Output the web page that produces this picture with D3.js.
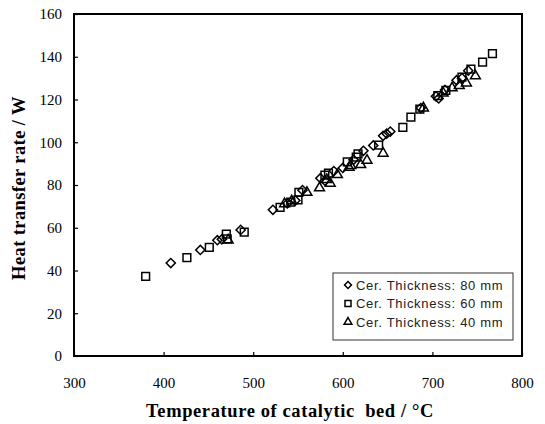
<!DOCTYPE html>
<html><head><meta charset="utf-8">
<script src="https://cdn.jsdelivr.net/npm/d3@7"></script>
<style>body{margin:0;background:#fff}svg{display:block}</style>
</head><body>
<svg id="c" width="545" height="424"></svg>
<script>
// ---- data ----
const seriesNames = ["Cer. Thickness: 80 mm", "Cer. Thickness: 60 mm", "Cer. Thickness: 40 mm"];
const xTicks = [300, 400, 500, 600, 700, 800];
const yTicks = [0, 20, 40, 60, 80, 100, 120, 140, 160];
const thick80 = [[408,43.5],[441,49.6],[460,54.2],[465,54.6],[486,59],[522,68.4],[538,71.4],[547,72.8],[555,77.6],[575,83.2],[580,82],[590,86.5],[600,88],[612,91.8],[623,96],[634,98.5],[645,103],[649,104],[653,105],[687,116],[704,121.5],[707,120.5],[714,124.5],[727,129],[733,130],[740,133.5]];
const thick60 = [[380,37.3],[426,46],[451,50.8],[470,57],[471,54.8],[490,58],[530,69.5],[542,72],[550,73],[551,76.5],[580,84.6],[584,85.5],[605,90.8],[615,93],[617,94.6],[640,98.6],[667,107],[676,111.8],[686,115.5],[706,121.8],[715,124.3],[733,130.5],[743,134.2],[756,137.5],[767,141.5]];
const thick40 = [[472,54.2],[535,71.2],[543,72.5],[560,76.5],[574,78.6],[582,82.5],[586,80.8],[594,84.8],[607,88.2],[609,89],[620,89.5],[627,91.5],[645,94.8],[690,116],[712,123],[722,125.4],[730,126.5],[738,127.7],[748,131]];

const svg = d3.select("#c");
const x = d3.scaleLinear().domain([300, 800]).range([74, 522]);
const y = d3.scaleLinear().domain([0, 160]).range([356, 14]);

// axes
const xa = svg.append("g").attr("transform", `translate(0,${y(0)})`)
  .call(d3.axisBottom(x).tickValues(xTicks).tickSize(-4).tickPadding(21).tickFormat(d3.format("d")));
const ya = svg.append("g").attr("transform", `translate(${x(300)},0)`)
  .call(d3.axisLeft(y).tickValues(yTicks).tickSize(-4).tickPadding(12).tickFormat(d3.format("d")));
[xa, ya].forEach(g => {
  g.select(".domain").remove();
  g.selectAll("line").attr("stroke", "#000").attr("stroke-width", 1.2);
  g.selectAll("text").attr("font-family", "Liberation Serif, serif").attr("font-size", 15).attr("fill", "#000");
});

// frame
svg.append("rect").attr("x", x(300)).attr("y", y(160))
  .attr("width", x(800) - x(300)).attr("height", y(0) - y(160))
  .attr("fill", "none").attr("stroke", "#000").attr("stroke-width", 2);

// symbols
const shapes = [
  s => d3.symbol(d3.symbolSquare, s)(),      // diamond (rotated square)
  s => d3.symbol(d3.symbolSquare, s)(),
  s => d3.symbol(d3.symbolTriangle, s)()
];
const rot = [45, 0, 0];
const sizes = [42, 60, 42];
const allSeries = [thick80, thick60, thick40];
allSeries.forEach((data, i) => {
  svg.append("g").selectAll("path").data(data).join("path")
    .attr("d", shapes[i](sizes[i]))
    .attr("transform", d => `translate(${x(d[0])},${y(d[1])}) rotate(${rot[i]})`)
    .attr("fill", "none").attr("stroke", "#000").attr("stroke-width", 1.5);
});

// legend
const lg = svg.append("g");
lg.append("rect").attr("x", 333).attr("y", 273).attr("width", 180).attr("height", 67)
  .attr("fill", "#fff").attr("stroke", "#333").attr("stroke-width", 1);
const lsizes = [24, 36, 26];
seriesNames.forEach((n, i) => {
  const yy = 285 + i * 18.5;
  lg.append("path").attr("d", shapes[i](lsizes[i]))
    .attr("transform", `translate(348,${yy}) rotate(${rot[i]})`)
    .attr("fill", "none").attr("stroke", "#000").attr("stroke-width", 1.5);
  lg.append("text").attr("x", 356).attr("y", yy).attr("dominant-baseline", "central")
    .attr("font-family", "Liberation Sans, Arial, sans-serif").attr("font-size", 13)
    .attr("letter-spacing", 0.7).attr("fill", "#222").text(n);
});

// titles
svg.append("text").attr("x", 290).attr("y", 417).attr("text-anchor", "middle")
  .attr("font-family", "Liberation Serif, serif").attr("font-weight", "bold").attr("font-size", 18.5)
  .attr("letter-spacing", 0.6)
  .style("white-space", "pre")
  .text("Temperature of catalytic  bed / °C");
svg.append("text").attr("transform", "translate(25,188) rotate(-90)").attr("text-anchor", "middle")
  .attr("font-family", "Liberation Serif, serif").attr("font-weight", "bold").attr("font-size", 18.5)
  .attr("letter-spacing", 0.4)
  .text("Heat transfer rate / W");
</script>
</body></html>
